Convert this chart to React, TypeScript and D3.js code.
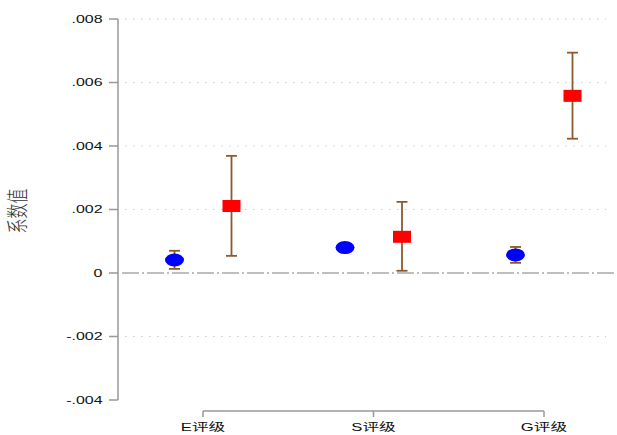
import React, { useEffect, useRef } from 'react';
import * as d3 from 'd3';

const categories = ['E评级', 'S评级', 'G评级'];
const series = ['blue', 'red'];
const blueCoef = [0.00041, 0.0008, 0.00057];
const blueLow = [0.00013, 0.00066, 0.00032];
const blueHigh = [0.0007, 0.00094, 0.00082];
const redCoef = [0.00211, 0.00114, 0.00558];
const redLow = [0.00054, 0.00007, 0.00423];
const redHigh = [0.00369, 0.00224, 0.00694];
const yTicks = [-0.004, -0.002, 0, 0.002, 0.004, 0.006, 0.008];

const W = 617;
const H = 435;
// the reference is stretched sideways, so glyphs are wider than tall
const SX = 1.45;

const fmt = (v: number) => {
  if (Math.abs(v) < 1e-12) return '0';
  const s = Math.abs(v).toFixed(3).replace(/^0/, '');
  return (v < 0 ? '-' : '') + s;
};

const App = () => {
  const ref = useRef<SVGSVGElement>(null);

  useEffect(() => {
    const svg = d3.select(ref.current);
    svg.selectAll('*').remove();

    const y = d3.scaleLinear().domain([-0.004, 0.008]).range([400, 19]);
    const x = d3.scalePoint().domain(categories).range([203, 544]);
    const off = d3.scalePoint().domain(series).range([-28.5, 28.5]);
    const font = '"Liberation Sans", Arial, "Noto Sans CJK SC", sans-serif';

    // grid
    svg
      .selectAll('line.grid')
      .data(yTicks.filter((t) => t !== 0 && t !== -0.004))
      .enter()
      .append('line')
      .attr('x1', 125)
      .attr('x2', 606)
      .attr('y1', (d) => y(d))
      .attr('y2', (d) => y(d))
      .attr('stroke', '#c8c8c8')
      .attr('stroke-width', 1)
      .attr('stroke-dasharray', '1.5,6.5');

    // zero line
    svg
      .append('line')
      .attr('x1', 122)
      .attr('x2', 617)
      .attr('y1', y(0))
      .attr('y2', y(0))
      .attr('stroke', '#aaaaaa')
      .attr('stroke-width', 1.3)
      .attr('stroke-dasharray', '17,3,2,3');

    // y axis
    const yAxis = svg.append('g').attr('transform', 'translate(118,0)');
    yAxis
      .append('line')
      .attr('y1', y(0.008))
      .attr('y2', y(-0.004))
      .attr('stroke', '#999')
      .attr('stroke-width', 1.5);
    const yt = yAxis.selectAll('g.tick').data(yTicks).enter().append('g');
    yt.append('line')
      .attr('x1', -9)
      .attr('x2', 0)
      .attr('y1', (d) => y(d))
      .attr('y2', (d) => y(d))
      .attr('stroke', '#999')
      .attr('stroke-width', 1.5);
    yt.append('text')
      .attr('transform', (d) => `translate(-15.5,${y(d)}) scale(${SX},1)`)
      .attr('dy', '0.36em')
      .attr('text-anchor', 'end')
      .attr('font-family', font)
      .attr('font-size', 11)
      .attr('fill', '#111')
      .text((d) => fmt(d));

    svg
      .append('text')
      .attr('transform', `translate(25,211) scale(${SX},1) rotate(-90)`)
      .attr('text-anchor', 'middle')
      .attr('font-family', '"Noto Sans CJK SC", sans-serif')
      .attr('font-weight', 300)
      .attr('font-size', 15)
      .attr('fill', '#333')
      .text('系数值');

    // x axis
    const xAxis = svg.append('g').attr('transform', 'translate(0,411)');
    xAxis
      .append('line')
      .attr('x1', x(categories[0])!)
      .attr('x2', x(categories[2])!)
      .attr('stroke', '#999')
      .attr('stroke-width', 1.5);
    const xt = xAxis.selectAll('g.tick').data(categories).enter().append('g');
    xt.append('line')
      .attr('x1', (d) => x(d)!)
      .attr('x2', (d) => x(d)!)
      .attr('y1', 0)
      .attr('y2', 6)
      .attr('stroke', '#999')
      .attr('stroke-width', 1.5);
    xt.append('text')
      .attr('transform', (d) => `translate(${x(d)},19.5) scale(${SX},1)`)
      .attr('text-anchor', 'middle')
      .attr('font-family', font)
      .attr('font-size', 11.5)
      .attr('fill', '#111')
      .text((d) => d);

    const brown = '#8c5a2c';
    const drawCI = (low: number[], high: number[], key: string) => {
      const g = svg.append('g');
      categories.forEach((c, i) => {
        const cx = x(c)! + off(key)!;
        g.append('line')
          .attr('x1', cx)
          .attr('x2', cx)
          .attr('y1', y(low[i]))
          .attr('y2', y(high[i]))
          .attr('stroke', brown)
          .attr('stroke-width', 1.8);
        [low[i], high[i]].forEach((v) => {
          g.append('line')
            .attr('x1', cx - 5.5)
            .attr('x2', cx + 5.5)
            .attr('y1', y(v))
            .attr('y2', y(v))
            .attr('stroke', brown)
            .attr('stroke-width', 1.8);
        });
      });
    };

    drawCI(blueLow, blueHigh, 'blue');
    drawCI(redLow, redHigh, 'red');

    svg
      .selectAll('ellipse.pt')
      .data(blueCoef)
      .enter()
      .append('ellipse')
      .attr('cx', (_, i) => x(categories[i])! + off('blue')!)
      .attr('cy', (d) => y(d))
      .attr('rx', 9.5)
      .attr('ry', 6.5)
      .attr('fill', '#0000ff');

    svg
      .selectAll('rect.pt')
      .data(redCoef)
      .enter()
      .append('rect')
      .attr('x', (_, i) => x(categories[i])! + off('red')! - 9)
      .attr('y', (d) => y(d) - 6)
      .attr('width', 18)
      .attr('height', 12)
      .attr('fill', '#ff0000');
  }, []);

  return (
    <svg
      ref={ref}
      width={W}
      height={H}
      style={{ position: 'absolute', left: 0, top: 0, background: '#fff' }}
    />
  );
};

export default App;
